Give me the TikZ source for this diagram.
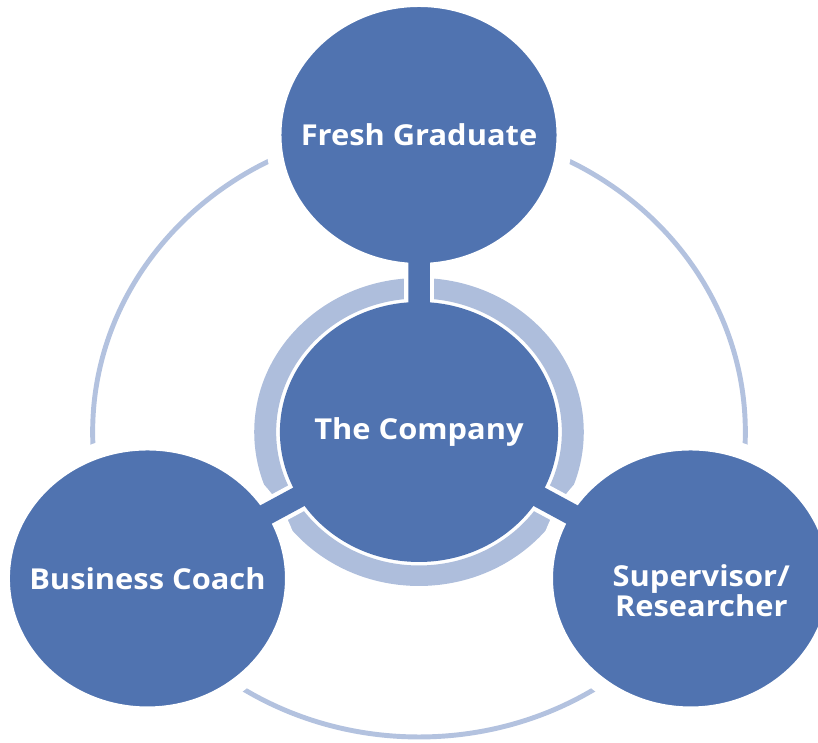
\documentclass[tikz,border=0pt]{standalone}
\usepackage{fontspec}
\setmainfont{Open Sans}
\definecolor{hubblue}{HTML}{5073B0}
\definecolor{bandblue}{HTML}{AEBEDC}
\definecolor{ringblue}{HTML}{B3C2DF}
\tikzset{
  hubtext/.style={text=white,font=\fontsize{8.2}{8.6}\selectfont\bfseries,align=center,transform shape},
  hub/.style={circle,fill=hubblue,minimum size=2.6cm,inner sep=0pt,hubtext},
  spoke/.style={hub,draw=white,line width=.16cm,minimum size=2.72cm},
  stem/.style={hubblue,line width=.215cm,shorten >=-.2cm,shorten <=-.05cm},
  casing/.style={white,line width=.3cm},
}
\begin{document}
\begin{tikzpicture}[xscale=1.07]
\useasboundingbox (-3.916,-3.11) rectangle (3.729,4.32);
\coordinate (cg) at (90:2.97);
\coordinate (cb) at (210:2.93);
\coordinate (cs) at (330:2.93);
\draw[ringblue,line width=1.4pt] (0,0) circle (3.05);
\fill[bandblue,even odd rule] (0,0) circle (1.54) (0,0) circle (1.335);
\foreach \c in {cg,cb,cs} \draw[casing] (0,0) -- (\c);
\node[hub] (company) at (0,0) {The Company};
\node[spoke] (graduate) at (cg) {Fresh Graduate};
\node[spoke] (coach) at (cb) {Business Coach};
\node[spoke,label={[hubtext,xshift=.1cm,yshift=-.12cm]center:{Supervisor/\\Researcher}}] (supervisor) at (cs) {};
\foreach \n in {graduate,coach,supervisor} \draw[stem] (company) -- (\n);
\end{tikzpicture}
\end{document}
